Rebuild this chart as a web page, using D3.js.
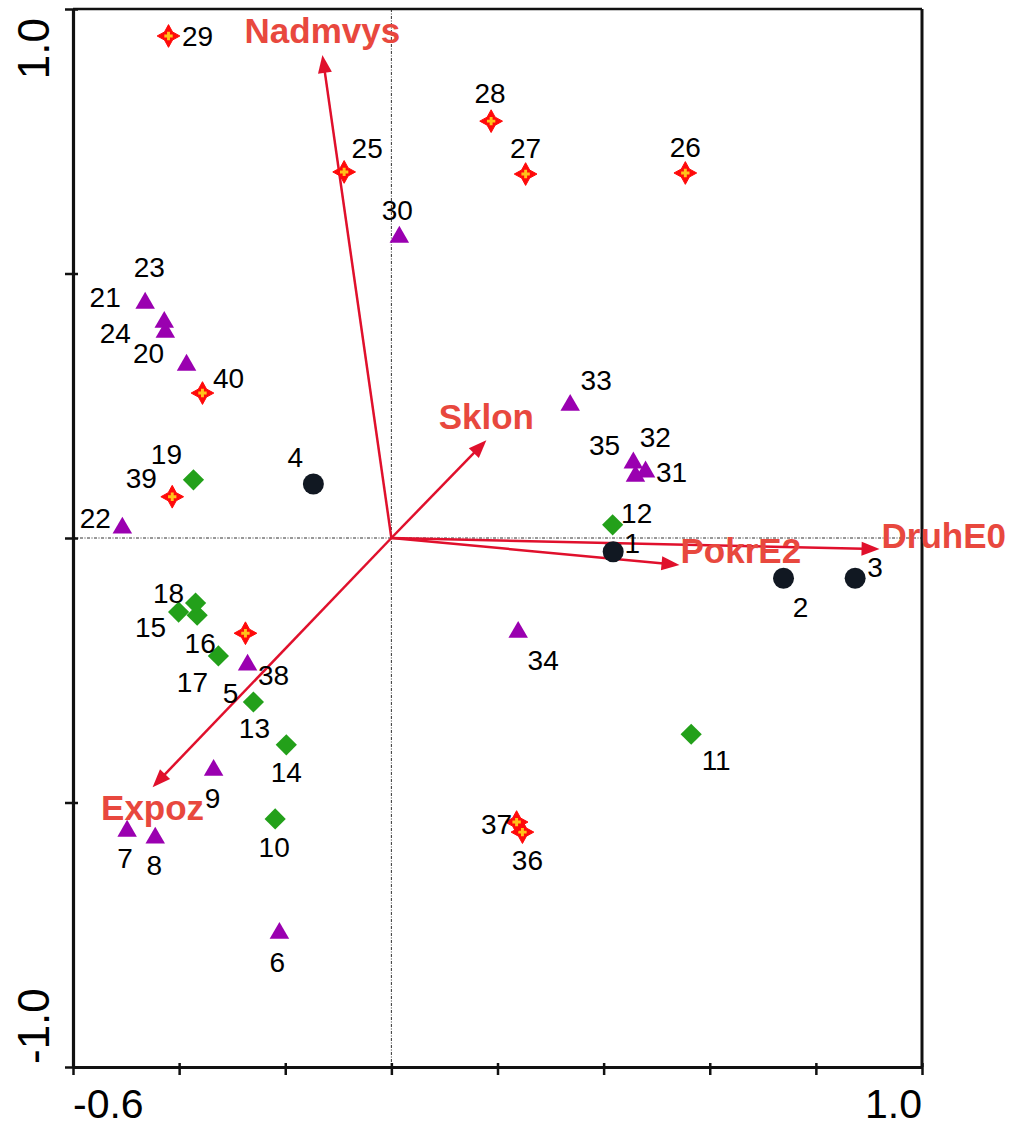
<!DOCTYPE html>
<html>
<head>
<meta charset="utf-8">
<script src="https://cdn.jsdelivr.net/npm/d3@7"></script>
<style>
  html, body { margin: 0; padding: 0; background: #fff; }
  svg { display: block; }
  text { font-family: Arial, "Liberation Sans", sans-serif; }
</style>
</head>
<body>
<div id="chart"></div>
<script>
// Ordination biplot: sample scores on axes 1 and 2, with environmental variables as arrows.

// Sample scores
const siteId = [1, 2, 3, 4, 5, 6, 7, 8, 9, 10,
                11, 12, 13, 14, 15, 16, 17, 18, 19, 20,
                21, 22, 23, 24, 25, 26, 27, 28, 29, 30,
                31, 32, 33, 34, 35, 36, 37, 38, 39, 40];
const siteAxis1 = [0.418, 0.739, 0.874, -0.147, -0.271, -0.211, -0.498, -0.445, -0.335, -0.219,
                   0.565, 0.417, -0.260, -0.198, -0.401, -0.366, -0.326, -0.369, -0.373, -0.386,
                   -0.464, -0.507, -0.428, -0.426, -0.089, 0.554, 0.253, 0.188, -0.420, 0.015,
                   0.479, 0.456, 0.337, 0.239, 0.460, 0.247, 0.236, -0.275, -0.413, -0.356];
const siteAxis2 = [-0.026, -0.076, -0.076, 0.102, -0.240, -0.747, -0.554, -0.567, -0.439, -0.531,
                   -0.371, 0.025, -0.310, -0.391, -0.140, -0.146, -0.223, -0.123, 0.110, 0.327,
                   0.444, 0.019, 0.408, 0.389, 0.692, 0.690, 0.688, 0.788, 0.949, 0.569,
                   0.125, 0.142, 0.251, -0.178, 0.117, -0.556, -0.537, -0.180, 0.078, 0.274];
// Sample group (1 = circle, 2 = diamond, 3 = triangle, 4 = star)
const siteGroup = [1, 1, 1, 1, 3, 3, 3, 3, 3, 2,
                   2, 2, 2, 2, 2, 2, 2, 2, 2, 3,
                   3, 3, 3, 3, 4, 4, 4, 4, 4, 3,
                   3, 3, 3, 3, 3, 4, 4, 4, 4, 4];

// Environmental variables (arrow tips)
const envNames = ["Nadmvys", "Sklon", "PokrE2", "DruhE0", "Expoz"];
const envAxis1 = [-0.130, 0.179, 0.543, 0.920, -0.450];
const envAxis2 = [0.913, 0.185, -0.051, -0.021, -0.471];

// Axis ticks and the two printed tick labels
const xTicks = [-0.6, -0.4, -0.2, 0.0, 0.2, 0.4, 0.6, 0.8, 1.0];
const yTicks = [-1.0, -0.5, 0.0, 0.5, 1.0];
const xTickLabels = ["-0.6", "1.0"];
const yTickLabels = ["-1.0", "1.0"];

// ---- layout ----
const W = 1012, H = 1126;
const x = d3.scaleLinear().domain([-0.6, 1.0]).range([73, 922]);
const y = d3.scaleLinear().domain([-1.0, 1.0]).range([1067, 9]);

// label placement for sample numbers (pixel offset of label centre from its symbol)
const labelOffset = {
  1: [19, -9], 2: [17, 29], 3: [20, -11], 4: [-18, -27], 5: [-17, 28],
  6: [-2, 29], 7: [-2, 27], 8: [-1, 27], 9: [-1, 28], 10: [-1, 28],
  11: [25, 26], 12: [24, -12], 13: [1, 26], 14: [0, 27], 15: [-28, 15],
  16: [3, 28], 17: [-26, 26], 18: [-27, -10], 19: [-27, -26], 20: [-38, -12],
  21: [-40, -6], 22: [-27, -10], 23: [-15, -55], 24: [-50, 1], 25: [23, -24],
  26: [0, -26], 27: [0, -26], 28: [-1, -28], 29: [29, 0], 30: [-2, -27],
  31: [26, 0], 32: [22, -26], 33: [26, -25], 34: [25, 28], 35: [-31, -31],
  36: [5, 28], 37: [-20, 2], 38: [28, 42], 39: [-31, -19], 40: [26, -15]
};
// arrow label placement relative to arrow tip
const envLabelPlace = {
  Nadmvys: { anchor: "middle", dx: 0, dy: -12 },
  Sklon:   { anchor: "middle", dx: 0, dy: -11 },
  PokrE2:  { anchor: "start",  dx: 1, dy: -2 },
  DruhE0:  { anchor: "start",  dx: 2, dy: -1 },
  Expoz:   { anchor: "middle", dx: 0, dy: 33 }
};

const svg = d3.select("#chart").append("svg")
  .attr("width", W).attr("height", H)
  .attr("viewBox", `0 0 ${W} ${H}`);

// zero lines
const zeroG = svg.append("g").attr("stroke", "#333").attr("stroke-width", 1)
  .attr("stroke-dasharray", "3,1.5,1,1.5").attr("fill", "none");
zeroG.append("line").attr("x1", x(-0.6)).attr("x2", x(1.0)).attr("y1", y(0)).attr("y2", y(0));
zeroG.append("line").attr("x1", x(0)).attr("x2", x(0)).attr("y1", y(1.0)).attr("y2", y(-1.0));

// frame top & right
svg.append("line").attr("x1", x(-0.6)).attr("x2", x(1.0)).attr("y1", y(1.0)).attr("y2", y(1.0))
  .attr("stroke", "#111").attr("stroke-width", 2.5);
svg.append("line").attr("x1", x(1.0)).attr("x2", x(1.0)).attr("y1", y(1.0)).attr("y2", y(-1.0))
  .attr("stroke", "#111").attr("stroke-width", 3);

// axes
const gx = svg.append("g").attr("transform", `translate(0,${y(-1.0)})`)
  .call(d3.axisBottom(x).tickValues(xTicks).tickSize(8).tickSizeOuter(0).tickFormat(""));
gx.selectAll(".tick line").attr("y1", -4);
const gy = svg.append("g").attr("transform", `translate(${x(-0.6)},0)`)
  .call(d3.axisLeft(y).tickValues(yTicks).tickSize(8).tickSizeOuter(0).tickFormat(""));
gy.selectAll(".tick line").attr("x1", 5);
[gx, gy].forEach(g => {
  g.select(".domain").attr("stroke", "#111").attr("stroke-width", 3.2);
  g.selectAll(".tick line").attr("stroke", "#111").attr("stroke-width", 2.5);
});

// tick labels
svg.append("text").text(xTickLabels[0]).attr("x", x(-0.6)).attr("y", 1118)
  .attr("text-anchor", "start").attr("font-size", 41).attr("fill", "#000");
svg.append("text").text(xTickLabels[1]).attr("x", x(1.0)).attr("y", 1118)
  .attr("text-anchor", "end").attr("font-size", 41).attr("fill", "#000");
svg.append("text").text(yTickLabels[0])
  .attr("transform", `translate(49,${y(-1.0) - 3}) rotate(-90)`)
  .attr("text-anchor", "start").attr("font-size", 44).attr("fill", "#000");
svg.append("text").text(yTickLabels[1])
  .attr("transform", `translate(49,${y(1.0) + 9}) rotate(-90)`)
  .attr("text-anchor", "end").attr("font-size", 44).attr("fill", "#000");

// environmental arrows
const arrowColor = "#e0102c";
const envG = svg.append("g");
envNames.forEach((name, i) => {
  const x0 = x(0), y0 = y(0), x1 = x(envAxis1[i]), y1 = y(envAxis2[i]);
  const len = Math.hypot(x1 - x0, y1 - y0);
  const ux = (x1 - x0) / len, uy = (y1 - y0) / len;
  const headL = 18, headW = 7;
  const bx = x1 - ux * headL, by = y1 - uy * headL;
  envG.append("line").attr("x1", x0).attr("y1", y0).attr("x2", bx + ux * 2).attr("y2", by + uy * 2)
    .attr("stroke", arrowColor).attr("stroke-width", 2.5);
  envG.append("path")
    .attr("d", `M${x1},${y1}L${bx - uy * headW},${by + ux * headW}L${bx + uy * headW},${by - ux * headW}Z`)
    .attr("fill", arrowColor);
});

// sample symbols
const starType = {
  draw(ctx, size) {
    // four-pointed star
    const R = Math.sqrt(size) * 0.75, r = R * 0.5;
    for (let k = 0; k < 8; k++) {
      const a = -Math.PI / 2 + k * Math.PI / 4;
      const rad = k % 2 === 0 ? R : r;
      const px = Math.cos(a) * rad, py = Math.sin(a) * rad;
      if (k === 0) ctx.moveTo(px, py); else ctx.lineTo(px, py);
    }
    ctx.closePath();
  }
};
const plusType = {
  draw(ctx, size) {
    const a = Math.sqrt(size) / 2, w = a * 0.35;
    ctx.moveTo(-w, -a); ctx.lineTo(w, -a); ctx.lineTo(w, -w); ctx.lineTo(a, -w);
    ctx.lineTo(a, w); ctx.lineTo(w, w); ctx.lineTo(w, a); ctx.lineTo(-w, a);
    ctx.lineTo(-w, w); ctx.lineTo(-a, w); ctx.lineTo(-a, -w); ctx.lineTo(-w, -w);
    ctx.closePath();
  }
};

const sites = siteId.map((id, i) => ({ id, a1: siteAxis1[i], a2: siteAxis2[i], g: siteGroup[i] }));
const symG = svg.append("g");
sites.forEach(s => {
  const px = x(s.a1), py = y(s.a2);
  if (s.g === 1) {
    symG.append("path").attr("d", d3.symbol(d3.symbolCircle, Math.PI * 10.5 * 10.5)())
      .attr("transform", `translate(${px},${py})`).attr("fill", "#111822");
  } else if (s.g === 2) {
    symG.append("path").attr("d", d3.symbol(d3.symbolSquare, 225)())
      .attr("transform", `translate(${px},${py}) rotate(45)`).attr("fill", "#23a01a");
  } else if (s.g === 3) {
    symG.append("path").attr("d", d3.symbol(d3.symbolTriangle, 165)())
      .attr("transform", `translate(${px},${py})`).attr("fill", "#9a00b0");
  } else {
    symG.append("path").attr("d", d3.symbol(starType, 230)())
      .attr("transform", `translate(${px},${py})`).attr("fill", "#ff0a0a")
      .attr("stroke", "#ff0a0a").attr("stroke-width", 1).attr("stroke-linejoin", "round");
    symG.append("path").attr("d", d3.symbol(plusType, 70)())
      .attr("transform", `translate(${px},${py})`).attr("fill", "#ffc21a");
  }
});

// sample number labels
svg.append("g").selectAll("text").data(sites).join("text")
  .attr("x", d => x(d.a1) + labelOffset[d.id][0])
  .attr("y", d => y(d.a2) + labelOffset[d.id][1])
  .attr("dy", "0.36em")
  .attr("text-anchor", "middle")
  .attr("font-size", 28)
  .attr("fill", "#000")
  .text(d => d.id);

// arrow labels
svg.append("g").selectAll("text").data(envNames).join("text")
  .attr("x", (d, i) => x(envAxis1[i]) + envLabelPlace[d].dx)
  .attr("y", (d, i) => y(envAxis2[i]) + envLabelPlace[d].dy)
  .attr("text-anchor", d => envLabelPlace[d].anchor)
  .attr("font-size", 35)
  .attr("font-weight", "bold")
  .attr("fill", "#e8483e")
  .text(d => d);
</script>
</body>
</html>
